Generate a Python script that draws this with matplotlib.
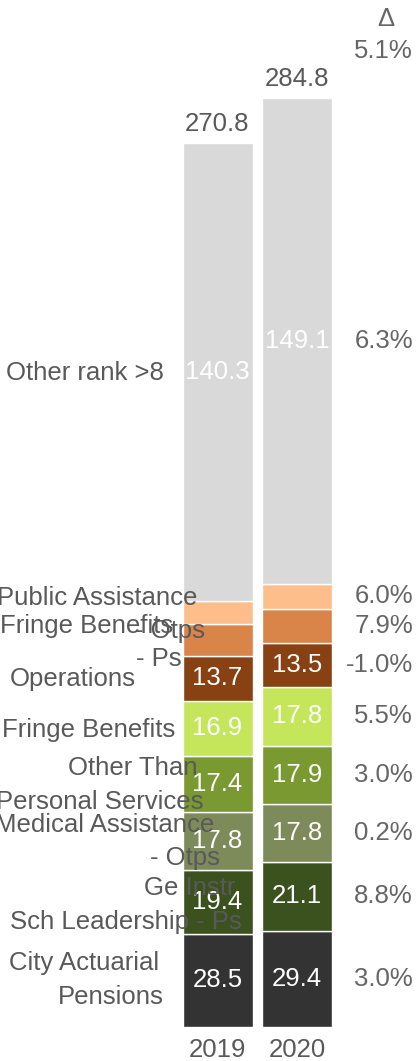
import matplotlib
matplotlib.use("Agg")
import matplotlib.pyplot as plt

# ---- data -------------------------------------------------------------
years = ["2019", "2020"]
segments = [
    "City Actuarial Pensions",
    "Ge Instr Sch Leadership - Ps",
    "Medical Assistance - Otps",
    "Other Than Personal Services",
    "Fringe Benefits",
    "Operations - Ps",
    "Fringe Benefits - Otps",
    "Public Assistance",
    "Other rank >8",
]
values_2019 = [28.5, 19.4, 17.8, 17.4, 16.9, 13.7, 9.7, 7.1, 140.3]
values_2020 = [29.4, 21.1, 17.8, 17.9, 17.8, 13.5, 10.6, 7.6, 149.1]
delta_pct = [3.0, 8.8, 0.2, 3.0, 5.5, -1.0, 7.9, 6.0, 6.3]
total_delta_pct = 5.1

colors = ["#333333", "#3c521e", "#7d8b5a", "#7a9930", "#c5e65a",
          "#874112", "#d98448", "#fdbe8c", "#d9d9d9"]

# ---- label layout: (line text, right edge px, vertical shift px) ------
label_lines = [
    [("City Actuarial", 159, -17), ("Pensions", 164, 17)],
    [("Ge Instr", 235, -14), ("Sch Leadership - Ps", 242, 20)],
    [("Medical Assistance", 214, -16), ("- Otps", 220, 17)],
    [("Other Than", 197, -16), ("Personal Services", 204, 18)],
    [("Fringe Benefits", 175, 2)],
    [("Operations", 136, 1), ("- Ps", 182, -19)],
    [("Fringe Benefits", 173, -14), ("- Otps", 205, -9)],
    [("Public Assistance", 197, -15)],
    [("Other rank >8", 164, 1)],
]

# ---- figure geometry --------------------------------------------------
W, H, DPI = 418, 1061, 100
BAR_X0_PX = 217.5     # centre of first bar
BAR_STEP_PX = 79.5    # distance between bar centres
BASE_PX = 1026.7      # baseline (pixels from top)
PX_PER_UNIT = 3.262

plt.rcParams["font.family"] = ["Liberation Sans", "DejaVu Sans"]
FS = 18.5
GREY = "#595959"

fig = plt.figure(figsize=(W / DPI, H / DPI), dpi=DPI)
ax = fig.add_axes([0, 0, 1, 1])
ax.set_xlim(-BAR_X0_PX / BAR_STEP_PX, (W - BAR_X0_PX) / BAR_STEP_PX)
ax.set_ylim((BASE_PX - H) / PX_PER_UNIT, BASE_PX / PX_PER_UNIT)
ax.axis("off")


def px_to_x(px):
    return (px - BAR_X0_PX) / BAR_STEP_PX


bar_w = 70 / BAR_STEP_PX
series = [values_2019, values_2020]
centres = []
for xi, vals in enumerate(series):
    bottom = 0.0
    cents = []
    for v, c in zip(vals, colors):
        ax.bar(xi, v, bottom=bottom, width=bar_w, color=c,
               edgecolor="white", linewidth=1.0)
        mid = bottom + v / 2
        cents.append(mid)
        if v >= 12:
            ax.text(xi, mid, f"{v:.1f}", ha="center", va="center",
                    color="white", fontsize=FS)
        bottom += v
    centres.append(cents)
    # total above bar
    ax.annotate(f"{bottom:.1f}", xy=(xi, bottom), xytext=(0, 19),
                textcoords="offset pixels", ha="center", va="center",
                color=GREY, fontsize=FS)
    # year label
    ax.annotate(years[xi], xy=(xi, 0), xytext=(0, -23),
                textcoords="offset pixels", ha="center", va="center",
                color=GREY, fontsize=FS)

# segment names on the left, at 2019 segment centres
for lines, mid in zip(label_lines, centres[0]):
    for text, right_px, dy in lines:
        ax.annotate(text, xy=(px_to_x(right_px), mid), xytext=(0, -dy),
                    textcoords="offset pixels", ha="right", va="center",
                    color=GREY, fontsize=FS)

# change column on the right, at 2020 segment centres
dx = px_to_x(413)
for d, mid in zip(delta_pct, centres[1]):
    ax.text(dx, mid, f"{d:.1f}%", ha="right", va="center",
            color="#666666", fontsize=FS)

ax.text(px_to_x(386), (BASE_PX - 19) / PX_PER_UNIT, "\u0394",
        ha="center", va="center", color="#666666", fontsize=FS)
ax.text(dx, (BASE_PX - 51) / PX_PER_UNIT, f"{total_delta_pct:.1f}%",
        ha="right", va="center", color="#666666", fontsize=FS)

fig.savefig("out.png", dpi=DPI)
